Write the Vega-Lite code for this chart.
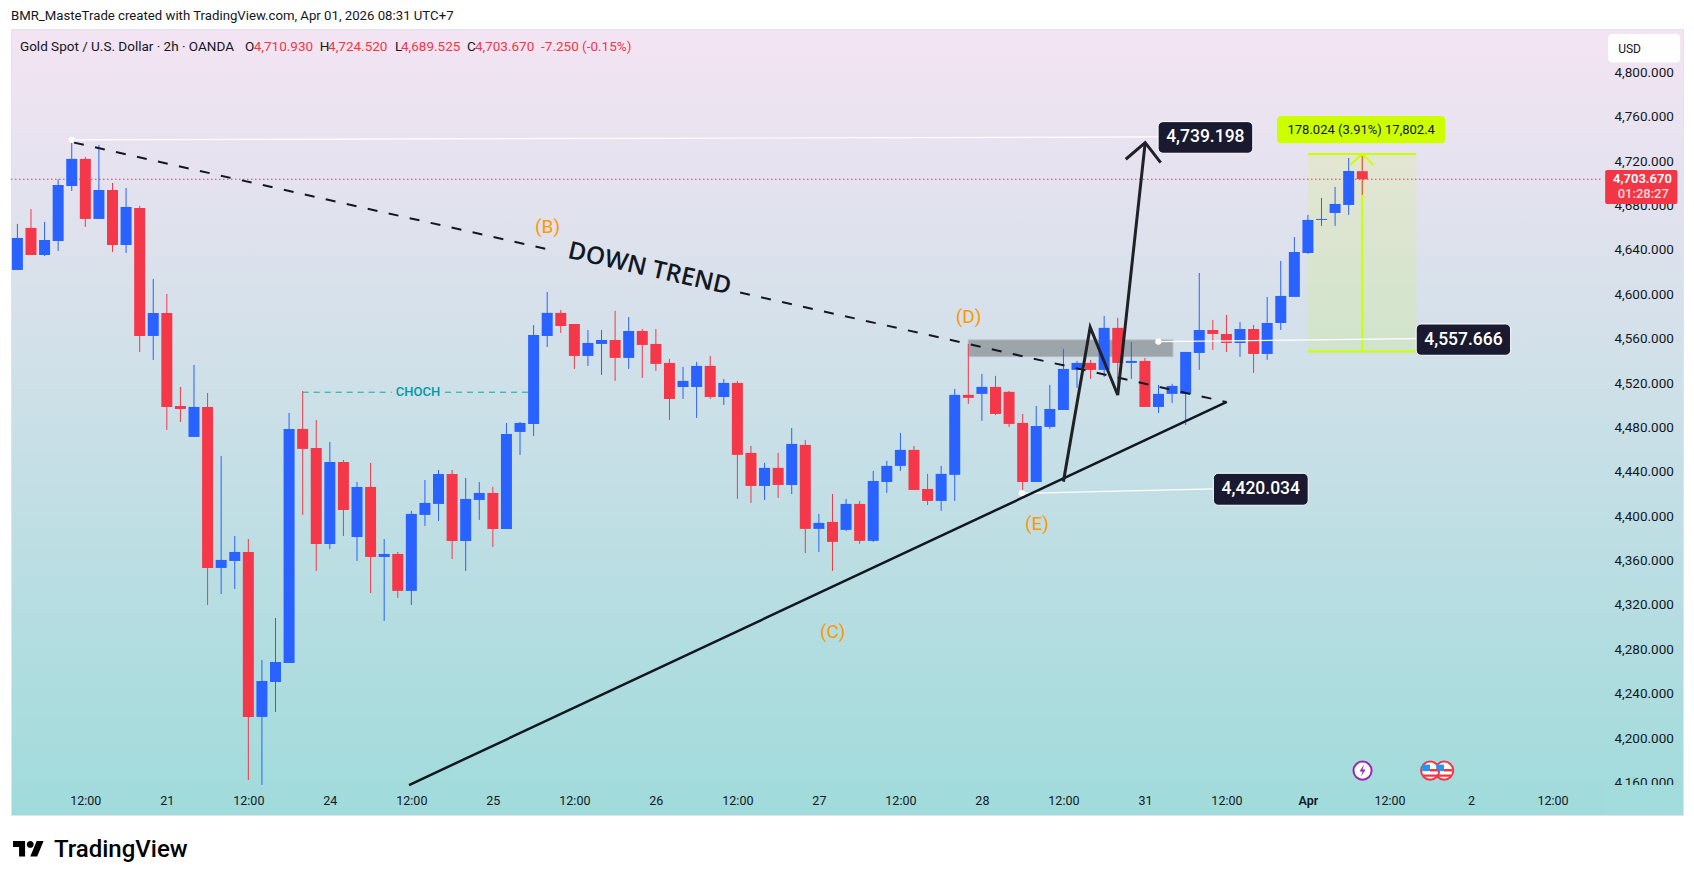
{
  "$schema": "https://vega.github.io/schema/vega-lite/v6.json",
  "title": {"text": "BMR_MasteTrade created with TradingView.com, Apr 01, 2026 08:31 UTC+7", "anchor": "start", "frame": "group", "offset": 6, "font": "Roboto", "fontSize": 13.2, "fontWeight": "normal", "color": "#131722"},
  "autosize": "none",
  "padding": {"left": 11, "top": 29, "right": 11, "bottom": 67},
  "width": 1672,
  "height": 786,
  "background": "white",
  "view": {"stroke": "#e0e3eb", "fill": {"gradient": "linear", "x1": 0, "y1": 0, "x2": 0, "y2": 1, "stops": [{"offset": 0, "color": "#f4e4f3"}, {"offset": 1, "color": "#a0dbdb"}]}},
  "config": {"font": "Roboto", "axis": {"title": null, "grid": false, "domain": false, "ticks": false, "labelFont": "Roboto", "labelColor": "#131722", "labelFontSize": 12}},
  "datasets": {
    "candles": [
      {"i":0,"o":4621.9,"h":4663.4,"l":4621.9,"c":4650.7,"d":"up"},
      {"i":1,"o":4659.8,"h":4676.9,"l":4635.4,"c":4635.4,"d":"down"},
      {"i":2,"o":4635.4,"h":4665.2,"l":4634.5,"c":4648.9,"d":"up"},
      {"i":3,"o":4648.0,"h":4703.6,"l":4639.0,"c":4698.5,"d":"up"},
      {"i":4,"o":4697.6,"h":4739.2,"l":4693.1,"c":4722.0,"d":"up"},
      {"i":5,"o":4722.0,"h":4723.8,"l":4660.7,"c":4667.9,"d":"down"},
      {"i":6,"o":4667.9,"h":4734.6,"l":4667.9,"c":4694.0,"d":"up"},
      {"i":7,"o":4694.0,"h":4700.3,"l":4638.1,"c":4644.4,"d":"down"},
      {"i":8,"o":4644.4,"h":4695.8,"l":4637.2,"c":4678.7,"d":"up"},
      {"i":9,"o":4677.8,"h":4679.6,"l":4548.0,"c":4562.4,"d":"down"},
      {"i":10,"o":4562.4,"h":4613.8,"l":4540.8,"c":4583.1,"d":"up"},
      {"i":11,"o":4583.1,"h":4600.3,"l":4477.7,"c":4498.4,"d":"down"},
      {"i":12,"o":4499.3,"h":4516.4,"l":4484.9,"c":4496.6,"d":"down"},
      {"i":13,"o":4471.4,"h":4536.3,"l":4471.4,"c":4498.4,"d":"up"},
      {"i":14,"o":4498.4,"h":4511.0,"l":4319.9,"c":4353.3,"d":"down"},
      {"i":15,"o":4353.3,"h":4454.2,"l":4329.8,"c":4360.5,"d":"up"},
      {"i":16,"o":4359.6,"h":4382.1,"l":4334.3,"c":4367.7,"d":"up"},
      {"i":17,"o":4367.7,"h":4379.4,"l":4162.2,"c":4219.0,"d":"down"},
      {"i":18,"o":4219.0,"h":4270.3,"l":4157.7,"c":4251.4,"d":"up"},
      {"i":19,"o":4250.5,"h":4308.2,"l":4223.5,"c":4268.5,"d":"up"},
      {"i":20,"o":4267.6,"h":4493.0,"l":4267.6,"c":4478.6,"d":"up"},
      {"i":21,"o":4478.6,"h":4512.8,"l":4401.1,"c":4460.6,"d":"down"},
      {"i":22,"o":4461.4,"h":4486.7,"l":4350.6,"c":4374.9,"d":"down"},
      {"i":23,"o":4374.9,"h":4466.8,"l":4370.4,"c":4448.8,"d":"up"},
      {"i":24,"o":4448.8,"h":4450.6,"l":4382.1,"c":4405.5,"d":"down"},
      {"i":25,"o":4381.2,"h":4430.8,"l":4359.6,"c":4426.3,"d":"up"},
      {"i":26,"o":4426.3,"h":4447.9,"l":4330.7,"c":4363.2,"d":"down"},
      {"i":27,"o":4363.2,"h":4379.4,"l":4305.5,"c":4365.9,"d":"up"},
      {"i":28,"o":4365.9,"h":4367.7,"l":4326.3,"c":4332.6,"d":"down"},
      {"i":29,"o":4332.6,"h":4404.7,"l":4319.9,"c":4402.0,"d":"up"},
      {"i":30,"o":4401.1,"h":4432.6,"l":4391.2,"c":4411.9,"d":"up"},
      {"i":31,"o":4411.0,"h":4441.6,"l":4395.7,"c":4438.0,"d":"up"},
      {"i":32,"o":4438.0,"h":4441.6,"l":4361.4,"c":4377.6,"d":"down"},
      {"i":33,"o":4377.6,"h":4434.4,"l":4350.6,"c":4415.5,"d":"up"},
      {"i":34,"o":4414.6,"h":4430.8,"l":4396.6,"c":4420.9,"d":"up"},
      {"i":35,"o":4420.9,"h":4426.3,"l":4372.2,"c":4388.4,"d":"down"},
      {"i":36,"o":4388.4,"h":4484.0,"l":4388.4,"c":4474.1,"d":"up"},
      {"i":37,"o":4475.9,"h":4484.9,"l":4455.2,"c":4484.0,"d":"up"},
      {"i":38,"o":4483.1,"h":4572.3,"l":4472.3,"c":4563.3,"d":"up"},
      {"i":39,"o":4562.4,"h":4602.1,"l":4552.5,"c":4583.2,"d":"up"},
      {"i":40,"o":4583.2,"h":4585.9,"l":4565.1,"c":4571.4,"d":"down"},
      {"i":41,"o":4573.2,"h":4573.2,"l":4532.7,"c":4544.4,"d":"down"},
      {"i":42,"o":4544.4,"h":4567.8,"l":4535.4,"c":4556.1,"d":"up"},
      {"i":43,"o":4555.2,"h":4567.8,"l":4527.3,"c":4558.8,"d":"up"},
      {"i":44,"o":4558.8,"h":4585.0,"l":4521.9,"c":4542.6,"d":"down"},
      {"i":45,"o":4542.6,"h":4579.5,"l":4532.7,"c":4566.9,"d":"up"},
      {"i":46,"o":4566.9,"h":4568.7,"l":4524.6,"c":4554.3,"d":"down"},
      {"i":47,"o":4555.2,"h":4568.7,"l":4530.9,"c":4537.2,"d":"down"},
      {"i":48,"o":4538.1,"h":4541.7,"l":4486.7,"c":4505.6,"d":"down"},
      {"i":49,"o":4516.4,"h":4534.5,"l":4505.6,"c":4521.9,"d":"up"},
      {"i":50,"o":4516.4,"h":4539.0,"l":4488.5,"c":4535.4,"d":"up"},
      {"i":51,"o":4535.4,"h":4544.4,"l":4505.6,"c":4507.4,"d":"down"},
      {"i":52,"o":4507.4,"h":4523.7,"l":4500.2,"c":4520.1,"d":"up"},
      {"i":53,"o":4520.1,"h":4521.9,"l":4415.5,"c":4455.2,"d":"down"},
      {"i":54,"o":4457.0,"h":4463.3,"l":4411.9,"c":4427.2,"d":"down"},
      {"i":55,"o":4427.2,"h":4448.0,"l":4414.6,"c":4443.5,"d":"up"},
      {"i":56,"o":4443.5,"h":4457.0,"l":4416.4,"c":4428.1,"d":"down"},
      {"i":57,"o":4428.1,"h":4479.5,"l":4420.0,"c":4465.1,"d":"up"},
      {"i":58,"o":4464.2,"h":4468.7,"l":4366.8,"c":4388.5,"d":"down"},
      {"i":59,"o":4388.5,"h":4402.0,"l":4367.7,"c":4393.9,"d":"up"},
      {"i":60,"o":4394.8,"h":4420.0,"l":4350.6,"c":4376.8,"d":"down"},
      {"i":61,"o":4387.6,"h":4415.5,"l":4386.7,"c":4411.0,"d":"up"},
      {"i":62,"o":4411.0,"h":4413.7,"l":4375.0,"c":4377.7,"d":"down"},
      {"i":63,"o":4377.7,"h":4440.8,"l":4376.8,"c":4431.7,"d":"up"},
      {"i":64,"o":4430.8,"h":4449.8,"l":4420.9,"c":4445.3,"d":"up"},
      {"i":65,"o":4445.3,"h":4475.0,"l":4440.8,"c":4459.7,"d":"up"},
      {"i":66,"o":4459.7,"h":4463.3,"l":4423.6,"c":4423.6,"d":"down"},
      {"i":67,"o":4424.5,"h":4438.1,"l":4410.1,"c":4413.7,"d":"down"},
      {"i":68,"o":4413.7,"h":4445.3,"l":4404.7,"c":4438.1,"d":"up"},
      {"i":69,"o":4437.2,"h":4514.7,"l":4413.7,"c":4509.3,"d":"up"},
      {"i":70,"o":4509.3,"h":4555.2,"l":4501.2,"c":4506.6,"d":"down"},
      {"i":71,"o":4510.2,"h":4528.2,"l":4485.8,"c":4516.5,"d":"up"},
      {"i":72,"o":4516.5,"h":4526.4,"l":4491.2,"c":4492.1,"d":"down"},
      {"i":73,"o":4512.0,"h":4512.9,"l":4480.4,"c":4483.1,"d":"down"},
      {"i":74,"o":4484.0,"h":4492.1,"l":4417.6,"c":4430.8,"d":"down"},
      {"i":75,"o":4430.8,"h":4499.3,"l":4430.8,"c":4481.3,"d":"up"},
      {"i":76,"o":4480.4,"h":4518.3,"l":4478.6,"c":4496.6,"d":"up"},
      {"i":77,"o":4495.7,"h":4550.7,"l":4495.7,"c":4532.7,"d":"up"},
      {"i":78,"o":4531.8,"h":4539.9,"l":4515.6,"c":4538.1,"d":"up"},
      {"i":79,"o":4538.1,"h":4540.8,"l":4523.7,"c":4531.8,"d":"down"},
      {"i":80,"o":4531.8,"h":4580.5,"l":4525.5,"c":4569.7,"d":"up"},
      {"i":81,"o":4569.7,"h":4578.7,"l":4512.0,"c":4538.1,"d":"down"},
      {"i":82,"o":4538.1,"h":4557.0,"l":4523.7,"c":4539.9,"d":"up"},
      {"i":83,"o":4539.9,"h":4542.6,"l":4498.4,"c":4498.4,"d":"down"},
      {"i":84,"o":4498.4,"h":4518.3,"l":4493.0,"c":4510.2,"d":"up"},
      {"i":85,"o":4510.2,"h":4519.2,"l":4502.1,"c":4517.4,"d":"up"},
      {"i":86,"o":4510.2,"h":4548.0,"l":4482.2,"c":4548.0,"d":"up"},
      {"i":87,"o":4547.1,"h":4619.2,"l":4531.8,"c":4567.8,"d":"up"},
      {"i":88,"o":4567.8,"h":4576.8,"l":4549.8,"c":4564.2,"d":"down"},
      {"i":89,"o":4564.2,"h":4581.3,"l":4548.0,"c":4556.1,"d":"down"},
      {"i":90,"o":4556.1,"h":4575.0,"l":4543.5,"c":4568.7,"d":"up"},
      {"i":91,"o":4568.7,"h":4572.3,"l":4529.1,"c":4546.2,"d":"down"},
      {"i":92,"o":4546.2,"h":4597.6,"l":4540.8,"c":4574.1,"d":"up"},
      {"i":93,"o":4574.1,"h":4630.0,"l":4567.8,"c":4598.5,"d":"up"},
      {"i":94,"o":4597.6,"h":4651.6,"l":4597.6,"c":4638.1,"d":"up"},
      {"i":95,"o":4637.2,"h":4671.5,"l":4636.3,"c":4667.0,"d":"up"},
      {"i":96,"o":4667.0,"h":4686.8,"l":4661.6,"c":4667.9,"d":"up"},
      {"i":97,"o":4673.3,"h":4696.7,"l":4661.6,"c":4681.4,"d":"up"},
      {"i":98,"o":4680.5,"h":4722.9,"l":4671.5,"c":4711.1,"d":"up"},
      {"i":99,"o":4710.93,"h":4724.52,"l":4689.525,"c":4703.67,"d":"down"}
    ]
  },
  "encoding": {
    "x": {"field": "i", "type": "quantitative", "scale": {"domain": [-0.471, 122.61], "nice": false, "zero": false, "padding": 0},
      "axis": {"orient": "bottom", "offset": -30, "labelPadding": 9, "labelFontSize": 12.5, "zindex": 1, "values": [5,11,17,23,29,35,41,47,53,59,65,71,77,83,89,95,101,107,113],
        "labelExpr": "{'11':'21','23':'24','35':'25','47':'26','59':'27','71':'28','83':'31','95':'Apr','107':'2'}[datum.value] || '12:00'",
        "labelFontWeight": {"condition": {"test": "datum.value == 95", "value": 600}, "value": 400}}},
    "y": {"field": "p", "type": "quantitative", "scale": {"domain": [4130.6, 4839.1], "nice": false, "zero": false},
      "axis": {"orient": "right", "offset": -73, "labelPadding": 4, "labelFontSize": 13.5, "zindex": 0, "format": ",.3f", "values": [4160,4200,4240,4280,4320,4360,4400,4440,4480,4520,4560,4600,4640,4680,4720,4760,4800]}}
  },
  "layer": [
    {"data": {"values": [{"i": 116.8, "i2": 122.61, "p": 4157.6, "p2": 4130.6}]},
     "mark": {"type": "rect", "fill": "#a2dcdc"},
     "encoding": {"x2": {"field": "i2"}, "y2": {"field": "p2"}}},
    {"data": {"values": [{"i": 70.0, "i2": 85.06, "p": 4558.8, "p2": 4543.8}]},
     "mark": {"type": "rect", "fill": "#6f7577", "fillOpacity": 0.55, "stroke": "#b4b8bb", "strokeWidth": 1},
     "encoding": {"x2": {"field": "i2"}, "y2": {"field": "p2"}}},
    {"data": {"values": [{"i": 94.98, "i2": 102.97, "p": 4726.5, "p2": 4548.3}]},
     "mark": {"type": "rect", "fill": "#ccff00", "fillOpacity": 0.12},
     "encoding": {"x2": {"field": "i2"}, "y2": {"field": "p2"}}},
    {"data": {"values": [
        {"s": "top", "i": 94.98, "p": 4726.5}, {"s": "top", "i": 102.97, "p": 4726.5},
        {"s": "bottom", "i": 94.98, "p": 4548.3}, {"s": "bottom", "i": 102.97, "p": 4548.3},
        {"s": "stem", "i": 99, "p": 4726.5}, {"s": "stem", "i": 99, "p": 4548.3},
        {"s": "head", "i": 98.1, "p": 4716.6}, {"s": "head", "i": 99, "p": 4726.5}, {"s": "head", "i": 99.82, "p": 4716.6}
      ]},
     "mark": {"type": "line", "color": "#ccff00", "strokeWidth": 2},
     "encoding": {"detail": {"field": "s"}, "order": {"field": "i"}}},
    {"data": {"values": [{"i": -0.471, "p": 4703.67}, {"i": 116.64, "p": 4703.67}]},
     "mark": {"type": "line", "color": "#f23645", "strokeWidth": 1, "strokeDash": [1.5, 2.5]},
     "encoding": {}},
    {"data": {"name": "candles"},
     "mark": {"type": "rule", "strokeWidth": 1},
     "encoding": {"y": {"field": "h", "type": "quantitative"}, "y2": {"field": "l"},
       "color": {"field": "d", "type": "nominal", "legend": null, "scale": {"domain": ["up", "down"], "range": ["#2962ff", "#f53849"]}}}},
    {"data": {"name": "candles"},
     "mark": {"type": "bar", "size": 11},
     "encoding": {"y": {"field": "o", "type": "quantitative"}, "y2": {"field": "c"},
       "color": {"field": "d", "type": "nominal", "legend": null, "scale": {"domain": ["up", "down"], "range": ["#2962ff", "#f53849"]}}}},
    {"data": {"values": [
        {"s": "a", "o": 1, "i": 4.0, "p": 4739.2}, {"s": "a", "o": 2, "i": 83.97, "p": 4741.8},
        {"s": "b", "o": 1, "i": 83.99, "p": 4557.3}, {"s": "b", "o": 2, "i": 102.97, "p": 4560.0},
        {"s": "c", "o": 1, "i": 73.94, "p": 4420.6}, {"s": "c", "o": 2, "i": 88.04, "p": 4424.5}
      ]},
     "mark": {"type": "line", "color": "#ffffff", "strokeWidth": 1.2},
     "encoding": {"detail": {"field": "s"}, "order": {"field": "o"}}},
    {"data": {"values": [{"i": 4.0, "p": 4739.2}, {"i": 83.99, "p": 4557.3}, {"i": 73.94, "p": 4420.6}]},
     "mark": {"type": "point", "filled": true, "color": "#ffffff", "opacity": 1, "size": 40},
     "encoding": {}},
    {"data": {"values": [
        {"s": "left", "i": 4.17, "p": 4736.7}, {"s": "left", "i": 39.43, "p": 4639.5},
        {"s": "right", "i": 53.2, "p": 4601.5}, {"s": "right", "i": 88.98, "p": 4502.9}
      ]},
     "mark": {"type": "line", "color": "#131722", "strokeWidth": 2, "strokeDash": [10, 11.5]},
     "encoding": {"detail": {"field": "s"}, "order": {"field": "i"}}},
    {"data": {"values": [
        {"s": "left", "i": 21.0, "p": 4511.7}, {"s": "left", "i": 27.56, "p": 4511.7},
        {"s": "right", "i": 31.48, "p": 4511.7}, {"s": "right", "i": 37.61, "p": 4511.7}
      ]},
     "mark": {"type": "line", "color": "#00ad9c", "strokeWidth": 1, "strokeDash": [6, 5]},
     "encoding": {"detail": {"field": "s"}, "order": {"field": "i"}}},
    {"data": {"values": [{"i": 28.83, "p": 4157.6}, {"i": 89.03, "p": 4502.9}]},
     "mark": {"type": "line", "color": "#131722", "strokeWidth": 2.5},
     "encoding": {}},
    {"data": {"values": [
        {"s": "path", "o": 1, "i": 77.0, "p": 4431.1}, {"s": "path", "o": 2, "i": 78.97, "p": 4570.3},
        {"s": "path", "o": 3, "i": 81.0, "p": 4509.2}, {"s": "path", "o": 4, "i": 83.02, "p": 4736.7},
        {"s": "head", "o": 1, "i": 81.59, "p": 4721.7}, {"s": "head", "o": 2, "i": 83.02, "p": 4736.7}, {"s": "head", "o": 3, "i": 84.16, "p": 4718.6}
      ]},
     "mark": {"type": "line", "color": "#1f2126", "strokeWidth": 3},
     "encoding": {"detail": {"field": "s"}, "order": {"field": "o"}}},
    {"data": {"values": [
        {"i": 83.97, "i2": 90.94, "p": 4755.6, "p2": 4727.1},
        {"i": 102.97, "i2": 109.92, "p": 4573.2, "p2": 4545.0},
        {"i": 88.04, "i2": 95.02, "p": 4438.6, "p2": 4409.8}
      ]},
     "mark": {"type": "rect", "fill": "#191a2f", "stroke": "#ffffff", "strokeWidth": 1, "cornerRadius": 5},
     "encoding": {"x2": {"field": "i2"}, "y2": {"field": "p2"}}},
    {"data": {"values": [
        {"i": 87.45, "p": 4741.4, "t": "4,739.198"},
        {"i": 106.45, "p": 4559.1, "t": "4,557.666"},
        {"i": 91.53, "p": 4424.2, "t": "4,420.034"}
      ]},
     "mark": {"type": "text", "color": "#ffffff", "fontSize": 17.5, "fontWeight": 500, "align": "center", "baseline": "middle"},
     "encoding": {"text": {"field": "t"}}},
    {"data": {"values": [{"i": 92.72, "i2": 105.12, "p": 4760.7, "p2": 4736.1}]},
     "mark": {"type": "rect", "fill": "#ccff00", "cornerRadius": 4},
     "encoding": {"x2": {"field": "i2"}, "y2": {"field": "p2"}}},
    {"data": {"values": [{"i": 98.92, "p": 4748.4, "t": "178.024 (3.91%) 17,802.4"}]},
     "mark": {"type": "text", "color": "#131722", "fontSize": 13, "align": "center", "baseline": "middle"},
     "encoding": {"text": {"field": "t"}}},
    {"data": {"values": [
        {"i": 39.03, "p": 4660.4, "t": "(B)"}, {"i": 70.01, "p": 4579.8, "t": "(D)"},
        {"i": 75.05, "p": 4392.7, "t": "(E)"}, {"i": 60.02, "p": 4295.9, "t": "(C)"}
      ]},
     "mark": {"type": "text", "color": "#ff9800", "fontSize": 19, "align": "center", "baseline": "middle"},
     "encoding": {"text": {"field": "t"}}},
    {"data": {"values": [{"i": 29.49, "p": 4511.7, "t": "CHOCH"}]},
     "mark": {"type": "text", "color": "#0097a7", "fontSize": 13, "fontWeight": 500, "align": "center", "baseline": "middle"},
     "encoding": {"text": {"field": "t"}}},
    {"data": {"values": [{"i": 46.53, "p": 4622.5, "t": "DOWN TREND"}]},
     "mark": {"type": "text", "color": "#131722", "font": "Open Sans", "fontSize": 24.5, "fontWeight": 600, "angle": 12.7, "align": "center", "baseline": "middle"},
     "encoding": {"text": {"field": "t"}}},
    {"data": {"values": [
        {"i": 0.19, "p": 4823.1, "t": "Gold Spot / U.S. Dollar · 2h · OANDA"}, {"i": 16.76, "p": 4823.1, "t": "O"},
        {"i": 22.26, "p": 4823.1, "t": "H"}, {"i": 27.8, "p": 4823.1, "t": "L"}, {"i": 33.1, "p": 4823.1, "t": "C"}
      ]},
     "mark": {"type": "text", "color": "#131722", "fontSize": 13.5, "align": "left", "baseline": "middle"},
     "encoding": {"text": {"field": "t"}}},
    {"data": {"values": [
        {"i": 17.4, "p": 4823.1, "t": "4,710.930"}, {"i": 22.87, "p": 4823.1, "t": "4,724.520"},
        {"i": 28.24, "p": 4823.1, "t": "4,689.525"}, {"i": 33.68, "p": 4823.1, "t": "4,703.670"},
        {"i": 38.55, "p": 4823.1, "t": "-7.250 (-0.15%)"}
      ]},
     "mark": {"type": "text", "color": "#f23645", "fontSize": 13.5, "align": "left", "baseline": "middle"},
     "encoding": {"text": {"field": "t"}}},
    {"data": {"values": [{"i": 116.88, "i2": 122.2, "p": 4712.05, "p2": 4681.4}]},
     "mark": {"type": "rect", "fill": "#f23645", "cornerRadius": 2},
     "encoding": {"x2": {"field": "i2"}, "y2": {"field": "p2"}}},
    {"data": {"values": [{"i": 121.79, "p": 4703.9, "t": "4,703.670"}]},
     "mark": {"type": "text", "color": "#ffffff", "fontSize": 13, "fontWeight": 600, "align": "right", "baseline": "middle"},
     "encoding": {"text": {"field": "t"}}},
    {"data": {"values": [{"i": 121.79, "p": 4690.4, "t": "01:28:27"}]},
     "mark": {"type": "text", "color": "#ffffff", "opacity": 0.8, "fontSize": 13, "fontWeight": 500, "align": "right", "baseline": "middle", "dx": -3},
     "encoding": {"text": {"field": "t"}}},
    {"data": {"values": [{"i": 117.1, "i2": 122.4, "p": 4834.6, "p2": 4808.8}]},
     "mark": {"type": "rect", "fill": "#ffffff", "cornerRadius": 4},
     "encoding": {"x2": {"field": "i2"}, "y2": {"field": "p2"}}},
    {"data": {"values": [{"i": 117.84, "p": 4821.1, "t": "USD"}]},
     "mark": {"type": "text", "color": "#131722", "fontSize": 12, "align": "left", "baseline": "middle"},
     "encoding": {"text": {"field": "t"}}},
    {"data": {"values": [{"i": 99.02, "p": 4170.6}]},
     "mark": {"type": "point", "shape": "circle", "filled": true, "fill": "#ffffff", "stroke": "#9c27b0", "strokeWidth": 2, "opacity": 1, "size": 330},
     "encoding": {}},
    {"data": {"values": [{"i": 99.02, "p": 4170.6}]},
     "mark": {"type": "point", "shape": "M.15 -.6L-.3 .1H0L-.15 .6L.3 -.1H0Z", "filled": true, "color": "#9c27b0", "opacity": 1, "size": 400},
     "encoding": {}},
    {"data": {"values": [{"i": 105.03, "p": 4170.6}, {"i": 104.0, "p": 4170.6}]},
     "mark": {"type": "point", "shape": "circle", "filled": true, "fill": "#ffffff", "stroke": "#f23645", "strokeWidth": 2, "opacity": 1, "size": 330},
     "encoding": {"order": {"field": "i", "sort": "descending"}}},
    {"data": {"values": [{"i": 105.03, "p": 4170.6}, {"i": 104.0, "p": 4170.6}]},
     "mark": {"type": "point", "shape": "M-.8 -.6H-.02V.05H-.8Z", "filled": true, "color": "#2196f3", "opacity": 1, "size": 400},
     "encoding": {}},
    {"data": {"values": [{"i": 105.03, "p": 4170.6}, {"i": 104.0, "p": 4170.6}]},
     "mark": {"type": "point", "shape": "M-.02 -.15H.8V.1H-.02ZM-.7 .4H.7V.62H-.7Z", "filled": true, "color": "#f23645", "opacity": 1, "size": 400},
     "encoding": {}},
    {"data": {"values": [{"i": 0.82, "p": 4100.2}]},
     "mark": {"type": "point", "shape": "M-1 -.5H-.222V.5H-.611V-.111H-1ZM.556 .5H.111L.528 -.5H.972ZM-.111 -.278A.222 .222 0 1 1 .333 -.278A.222 .222 0 1 1 -.111 -.278Z", "filled": true, "color": "#000000", "opacity": 1, "size": 961, "clip": false},
     "encoding": {}},
    {"data": {"values": [{"i": 2.69, "p": 4099.1, "t": "TradingView"}]},
     "mark": {"type": "text", "color": "#000000", "fontSize": 24, "fontWeight": 500, "align": "left", "baseline": "middle", "clip": false},
     "encoding": {"text": {"field": "t"}}}
  ]
}
